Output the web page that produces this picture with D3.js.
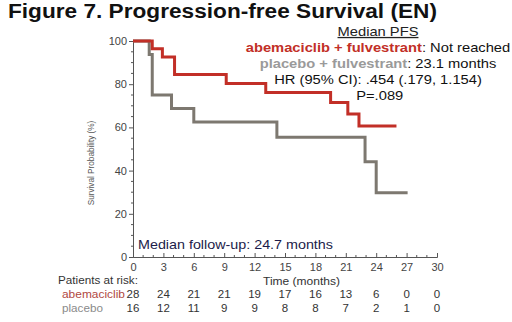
<!DOCTYPE html>
<html>
<head>
<meta charset="utf-8">
<script src="https://cdn.jsdelivr.net/npm/d3@7"></script>
<style>
  html, body { margin: 0; padding: 0; background: #fff; }
  svg { display: block; font-family: "Liberation Sans", Arial, sans-serif; }
</style>
</head>
<body>
<div id="chart"></div>
<script>
// Kaplan-Meier steps (time in months, survival %)
const abemaTimes = [0, 1.9, 2.9, 4.1, 9.2, 13.1, 19.5, 21.2, 22.3];
const abemaSurv  = [100, 96.4, 92.6, 84.5, 80.3, 76.1, 71.5, 66.2, 60.6];
const abemaEnd = 26;

const placeboTimes = [0, 1.6, 1.9, 3.8, 6.0, 14.2, 22.9, 24.0];
const placeboSurv  = [100, 93.8, 75, 68.8, 62.5, 55.4, 44.1, 29.8];
const placeboEnd = 27.1;

// risk table
const riskTimes = [0, 3, 6, 9, 12, 15, 18, 21, 24, 27, 30];
const riskAbema = [28, 24, 21, 21, 19, 17, 16, 13, 6, 0, 0];
const riskPlacebo = [16, 12, 11, 9, 9, 8, 8, 7, 2, 1, 0];

const yTicks = [0, 20, 40, 60, 80, 100];

const RED = '#c22f27';
const GREY = '#7d7870';

const width = 512, height = 322;
const svg = d3.select('#chart').append('svg')
    .attr('width', width)
    .attr('height', height);

const x = d3.scaleLinear().domain([0, 30]).range([133, 437]);
const y = d3.scaleLinear().domain([0, 100]).range([257, 41]);

// stretch a text element horizontally so it spans the given width
function fitWidth(sel, w) {
    const node = sel.node();
    const natural = node.getComputedTextLength();
    const x0 = +sel.attr('x') || 0;
    sel.attr('transform', `translate(${x0},0) scale(${w / natural},1) translate(${-x0},0)`);
    return sel;
}

// title
fitWidth(svg.append('text')
    .attr('x', 8).attr('y', 18)
    .attr('font-size', 20).attr('font-weight', 'bold')
    .attr('fill', '#111')
    .text('Figure 7. Progression-free Survival (EN)'), 429);

// ===== axes =====
const axisColor = '#555';

const yAxis = svg.append('g')
    .attr('transform', `translate(${x(0)},0)`)
    .call(d3.axisLeft(y).tickValues(yTicks).tickSize(4).tickPadding(2));
// minor y ticks
svg.append('g').selectAll('line')
    .data(d3.range(0, 101, 5).filter(v => v % 20 !== 0))
    .join('line')
    .attr('x1', x(0) - 2).attr('x2', x(0))
    .attr('y1', d => y(d)).attr('y2', d => y(d))
    .attr('stroke', axisColor);

const xAxis = svg.append('g')
    .attr('transform', `translate(0,${y(0)})`)
    .call(d3.axisBottom(x).tickValues(riskTimes).tickSize(-4).tickPadding(4));
svg.append('g').selectAll('line')
    .data(d3.range(0, 31, 1).filter(v => v % 3 !== 0))
    .join('line')
    .attr('x1', d => x(d)).attr('x2', d => x(d))
    .attr('y1', y(0) - 2).attr('y2', y(0))
    .attr('stroke', axisColor);

[yAxis, xAxis].forEach(g => {
    g.select('.domain').attr('stroke', axisColor);
    g.selectAll('.tick line').attr('stroke', axisColor);
    g.selectAll('.tick text')
        .attr('font-size', 11)
        .attr('font-family', '"Liberation Sans", Arial, sans-serif')
        .attr('fill', '#444');
});
xAxis.selectAll('.tick text').attr('dy', '0.9em');

// axis titles
svg.append('text')
    .attr('transform', `translate(94,163) rotate(-90)`)
    .attr('text-anchor', 'middle')
    .attr('font-size', 8.2).attr('fill', '#555')
    .text('Survival Probability (%)');

fitWidth(svg.append('text')
    .attr('x', 263).attr('y', 285)
    .attr('font-size', 11.5).attr('fill', '#333')
    .text('Time (months)'), 77);

// ===== curves =====
function stepData(times, surv, end) {
    const pts = times.map((t, i) => [t, surv[i]]);
    pts.push([end, surv[surv.length - 1]]);
    return pts;
}
const line = d3.line()
    .x(d => x(d[0]))
    .y(d => y(d[1]))
    .curve(d3.curveStepAfter);

svg.append('path')
    .datum(stepData(placeboTimes, placeboSurv, placeboEnd))
    .attr('d', line)
    .attr('fill', 'none')
    .attr('stroke', GREY)
    .attr('stroke-width', 3);

svg.append('path')
    .datum(stepData(abemaTimes, abemaSurv, abemaEnd))
    .attr('d', line)
    .attr('fill', 'none')
    .attr('stroke', RED)
    .attr('stroke-width', 3);

// ===== annotation block (slightly wide text, as in the figure) =====
const ann = svg.append('g')
    .attr('transform', 'translate(378,0) scale(1.15,1)')
    .attr('font-size', 12.8).attr('text-anchor', 'middle');
ann.append('text').attr('x', 0).attr('y', 36).attr('fill', '#222')
    .attr('text-decoration', 'underline')
    .text('Median PFS');
const l1 = ann.append('text').attr('x', 0).attr('y', 52);
l1.append('tspan').attr('fill', RED).attr('font-weight', 'bold').text('abemaciclib + fulvestrant');
l1.append('tspan').attr('fill', '#111').text(': Not reached');
const l2 = ann.append('text').attr('x', 0).attr('y', 68);
l2.append('tspan').attr('fill', '#9a9a9a').attr('font-weight', 'bold').text('placebo + fulvestrant');
l2.append('tspan').attr('fill', '#111').text(': 23.1 months');
ann.append('text').attr('x', 0).attr('y', 84).attr('fill', '#111')
    .text('HR (95% CI): .454 (.179, 1.154)');
ann.append('text').attr('x', 1.5).attr('y', 100).attr('fill', '#111')
    .text('P=.089');

fitWidth(svg.append('text')
    .attr('x', 138).attr('y', 249)
    .attr('font-size', 12.8).attr('fill', '#1c1c4a')
    .text('Median follow-up: 24.7 months'), 195);

// ===== risk table =====
fitWidth(svg.append('text')
    .attr('x', 58).attr('y', 284)
    .attr('font-size', 11).attr('fill', '#333')
    .text('Patients at risk:'), 80);
fitWidth(svg.append('text')
    .attr('x', 62).attr('y', 298)
    .attr('font-size', 11).attr('fill', '#b0483f')
    .text('abemaciclib'), 63);
fitWidth(svg.append('text')
    .attr('x', 62).attr('y', 312)
    .attr('font-size', 11).attr('fill', '#8a8a8a')
    .text('placebo'), 41);

svg.append('g').selectAll('text')
    .data(riskTimes)
    .join('text')
    .attr('x', d => x(d))
    .attr('y', 298)
    .attr('text-anchor', 'middle')
    .attr('font-size', 11.5).attr('fill', '#333')
    .text((d, i) => riskAbema[i]);

svg.append('g').selectAll('text')
    .data(riskTimes)
    .join('text')
    .attr('x', d => x(d))
    .attr('y', 312)
    .attr('text-anchor', 'middle')
    .attr('font-size', 11.5).attr('fill', '#333')
    .text((d, i) => riskPlacebo[i]);
</script>
</body>
</html>
